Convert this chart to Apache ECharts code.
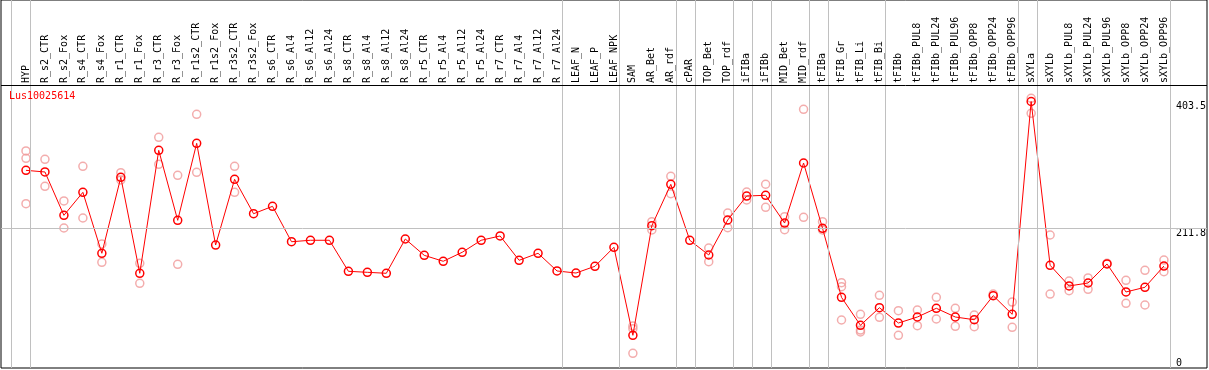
<!DOCTYPE html>
<html>
<head>
<meta charset="utf-8">
<script src="https://cdn.jsdelivr.net/npm/echarts@6/dist/echarts.min.js"></script>
<style>
html,body{margin:0;padding:0;background:#fff;}
#chart{width:1209px;height:370px;}
</style>
</head>
<body>
<div id="chart"></div>
<script>
var geneName = 'Lus10025614';

var categories = ['HYP','R_s2_CTR','R_s2_Fox','R_s4_CTR','R_s4_Fox','R_r1_CTR','R_r1_Fox','R_r3_CTR','R_r3_Fox',
  'R_r1s2_CTR','R_r1s2_Fox','R_r3s2_CTR','R_r3s2_Fox','R_s6_CTR','R_s6_Al4','R_s6_Al12','R_s6_Al24',
  'R_s8_CTR','R_s8_Al4','R_s8_Al12','R_s8_Al24','R_r5_CTR','R_r5_Al4','R_r5_Al12','R_r5_Al24',
  'R_r7_CTR','R_r7_Al4','R_r7_Al12','R_r7_Al24','LEAF_N','LEAF_P','LEAF_NPK','SAM','AR_Bet','AR_rdf',
  'cPAR','TOP_Bet','TOP_rdf','iFIBa','iFIBb','MID_Bet','MID_rdf','tFIBa','tFIB_Gr','tFIB_Li','tFIB_Bi',
  'tFIBb','tFIBb_PUL8','tFIBb_PUL24','tFIBb_PUL96','tFIBb_OPP8','tFIBb_OPP24','tFIBb_OPP96',
  'sXYLa','sXYLb','sXYLb_PUL8','sXYLb_PUL24','sXYLb_PUL96','sXYLb_OPP8','sXYLb_OPP24','sXYLb_OPP96'];

var meanValues = [299.3,296.8,231.2,266.0,173.7,288.7,143.4,329.6,223.6,
  340.2,186.2,285.7,233.6,244.8,191.2,193.4,193.4,
  146.4,144.9,143.4,195.3,170.6,161.6,175.2,193.4,
  199.9,163.1,173.7,146.9,143.8,154.0,182.8,49.5,215.5,278.1,
  193.4,171.1,224.1,260.4,261.5,219.5,310.4,211.5,107.0,64.7,91.3,
  68.1,77.2,90.4,77.2,73.1,109.5,81.3,
  403.5,155.5,124.2,128.7,157.5,115.1,122.2,154.4];

var replicateValues = [
  [328.6,317.5,248.8],[316.0,275.1],[252.9,212.0],[305.4,227.1],[187.8,160.0],[295.7,284.7],[158.5,128.2],[349.3,308.4],[291.8,157.0],
  [384.1,296.3],[],[305.4,266.0],[],[],[],[],[],
  [],[],[],[],[],[],[],[],
  [],[],[],[],[],[],[],[63.6,59.5,22.3],[221.5,209.0],[290.3,263.9],
  [],[181.7,161.0],[234.7,212.4],[266.5,254.4],[278.2,243.3],[229.1,209.4],[391.7,228.2],[221.5,209.0],[129.2,123.1,72.7],[81.3,57.5,54.5],[110.1,76.8],
  [86.8,49.5],[87.8,64.0],[107.0,74.2],[90.4,63.1],[80.2,62.5],[112.0],[99.9,61.6],
  [408.4,385.6],[201.4,112.0],[131.7,117.0],[136.3,119.2],[158.5],[132.8,98.0],[147.9,95.4],[163.5,145.8]];

var yTickTop = [211.8, 403.5];
var yTickBottom = [0];
var referenceLine = 211.8;

var separatorAfter = ['(start)','HYP','R_r7_Al24','LEAF_NPK','AR_rdf','cPAR','TOP_rdf','iFIBa','iFIBb',
  'MID_rdf','tFIBa','tFIB_Bi','tFIBb_OPP96','sXYLa','sXYLb_OPP96'];

// ---- build ----
var repData = [];
replicateValues.forEach(function (arr, i) {
  arr.forEach(function (v) { repData.push([i, v]); });
});
var yMax = 428.5;           // value at top edge of plot
var plotTop = 85, plotBottom = 368;
var pxPerUnit = (plotBottom - plotTop) / yMax;
var band = 19, firstX = 26;
var gridLeft = firstX - band / 2;
var gridRight = 1209 - (gridLeft + band * categories.length);
var frameL = 1, frameR = 1207;
var sepData = separatorAfter.map(function (name) {
  var idx = name === '(start)' ? -1 : categories.indexOf(name);
  return { xAxis: idx + 0.24 };
});

var mono = 'DejaVu Sans Mono';
var chart = echarts.init(document.getElementById('chart'), null, { renderer: 'canvas' });
chart.setOption({
  animation: false,
  backgroundColor: '#fff',
  title: {
    text: geneName, left: 9, top: 91, padding: 0,
    textStyle: { color: '#ff0000', fontSize: 10, fontFamily: mono, fontWeight: 'normal' }
  },
  grid: [
    { left: gridLeft, right: gridRight, top: plotTop, bottom: 370 - plotBottom, show: false },
    { left: frameL, top: 0, width: frameR - frameL, height: plotBottom, show: true,
      borderColor: '#000', borderWidth: 1, backgroundColor: 'transparent' }
  ],
  xAxis: [
    { type: 'category', gridIndex: 0, data: categories, position: 'top', boundaryGap: true,
      axisLine: { show: false }, axisTick: { show: false }, splitLine: { show: false },
      axisLabel: { interval: 0, rotate: 90, margin: 2, fontSize: 10, fontFamily: mono, color: '#000' } },
    { type: 'value', gridIndex: 1,
      min: (frameL - firstX) / band, max: (frameR - firstX) / band,
      show: false, splitLine: { show: false } }
  ],
  yAxis: [
    { type: 'value', gridIndex: 0, min: 0, max: yMax, show: false, splitLine: { show: false } },
    { type: 'value', gridIndex: 0, min: 0, max: yMax, position: 'right',
      axisLine: { show: false }, axisTick: { show: false }, splitLine: { show: false },
      axisLabel: { customValues: yTickTop, verticalAlign: 'top', margin: 2.5, fontSize: 10,
        fontFamily: mono, color: '#000', showMinLabel: true, showMaxLabel: true } },
    { type: 'value', gridIndex: 0, min: 0, max: yMax, position: 'right',
      axisLine: { show: false }, axisTick: { show: false }, splitLine: { show: false },
      axisLabel: { customValues: yTickBottom, verticalAlign: 'bottom', margin: 2.5, fontSize: 10,
        fontFamily: mono, color: '#000', showMinLabel: true } },
    { type: 'value', gridIndex: 1, min: 0, max: plotBottom / pxPerUnit, show: false, splitLine: { show: false } }
  ],
  series: [
    { type: 'line', xAxisIndex: 1, yAxisIndex: 3, data: [], silent: true, z: 1,
      markLine: { silent: true, symbol: ['none', 'none'], animation: false,
        label: { show: false },
        lineStyle: { color: '#c0c0c0', width: 1, type: 'solid' },
        emphasis: { disabled: true },
        data: sepData.concat([{ yAxis: referenceLine }, { yAxis: yMax, lineStyle: { color: '#000' } }]) } },
    { type: 'scatter', xAxisIndex: 0, yAxisIndex: 0, data: repData, z: 3, silent: true,
      symbol: 'circle', symbolSize: 8,
      itemStyle: { color: 'rgba(0,0,0,0)', borderColor: '#f09999', borderWidth: 1.5 } },
    { type: 'line', xAxisIndex: 0, yAxisIndex: 0, data: meanValues, z: 4, silent: true,
      symbol: 'circle', symbolSize: 8, showAllSymbol: true,
      lineStyle: { color: '#ff0000', width: 1 },
      itemStyle: { color: 'rgba(0,0,0,0)', borderColor: '#ff0000', borderWidth: 1.5 } }
  ]
});
</script>
</body>
</html>
